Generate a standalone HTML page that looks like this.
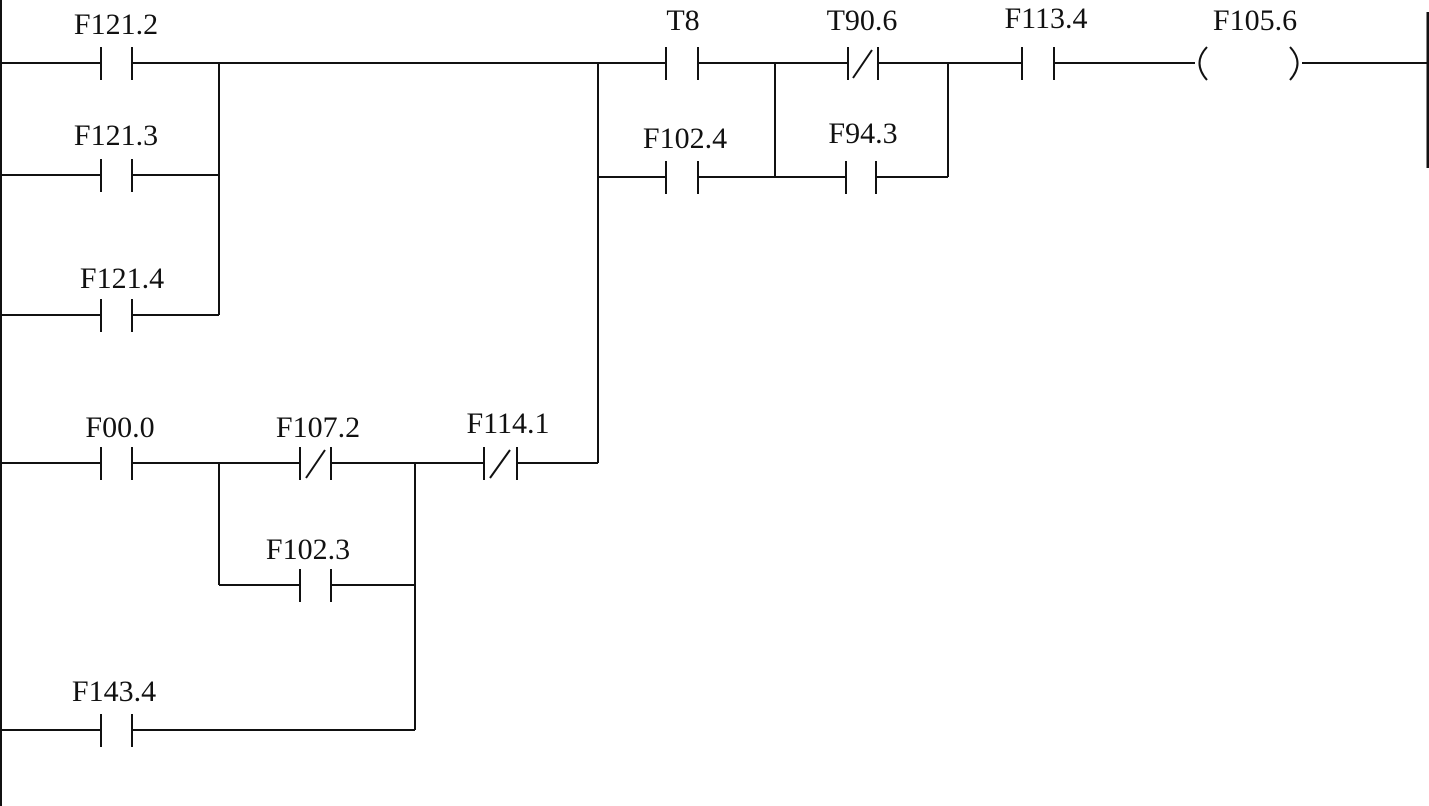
<!DOCTYPE html>
<html><head><meta charset="utf-8"><style>
html,body{margin:0;padding:0;background:#fff;}
svg{display:block;}
text{font-family:"Liberation Serif",serif;font-size:30px;fill:#111;text-anchor:middle;}
</style></head><body>
<svg width="1429" height="806" viewBox="0 0 1429 806" xmlns="http://www.w3.org/2000/svg">
<g stroke="#111" stroke-width="2" fill="none">
<!-- rails -->
<line x1="1" y1="0" x2="1" y2="806"/>
<line x1="1428" y1="12" x2="1428" y2="168" stroke-width="3"/>
<!-- row1 -->
<path d="M0 63H101M132 63H666M698 63H848M878 63H1022M1054 63H1195M1302 63H1428"/>
<path d="M101 47V80M132 47V80"/>
<path d="M666 47V80M698 47V80"/>
<path d="M848 47V80M878 47V80M853 78L872 50"/>
<path d="M1022 47V80M1054 47V80"/>
<path d="M1207 47Q1192 63 1207 80M1290 47Q1305 63 1290 80"/>
<!-- row2 -->
<path d="M0 175H101M132 175H219"/>
<path d="M101 159V192M132 159V192"/>
<path d="M598 177H666M698 177H846M876 177H948"/>
<path d="M666 161V194M698 161V194M846 161V194M876 161V194"/>
<path d="M775 63V177M948 63V177"/>
<!-- row3 -->
<path d="M0 315H101M132 315H219"/>
<path d="M101 299V332M132 299V332"/>
<path d="M219 63V315"/>
<path d="M598 63V463"/>
<!-- row4 -->
<path d="M0 463H101M132 463H300M331 463H484M517 463H598"/>
<path d="M101 447V480M132 447V480"/>
<path d="M300 447V480M331 447V480M306 478L325 450"/>
<path d="M484 447V480M517 447V480M490 478L510 450"/>
<path d="M219 463V585M415 463V730"/>
<!-- row5 -->
<path d="M219 585H300M331 585H415"/>
<path d="M300 569V602M331 569V602"/>
<!-- row6 -->
<path d="M0 730H101M132 730H415"/>
<path d="M101 714V747M132 714V747"/>
</g>
<text x="116" y="34">F121.2</text>
<text x="116" y="145">F121.3</text>
<text x="122" y="288">F121.4</text>
<text x="683" y="30">T8</text>
<text x="862" y="30">T90.6</text>
<text x="1046" y="28">F113.4</text>
<text x="1255" y="30">F105.6</text>
<text x="685" y="148">F102.4</text>
<text x="863" y="143">F94.3</text>
<text x="120" y="437">F00.0</text>
<text x="318" y="437">F107.2</text>
<text x="508" y="433">F114.1</text>
<text x="308" y="559">F102.3</text>
<text x="114" y="701">F143.4</text>
</svg>
</body></html>
